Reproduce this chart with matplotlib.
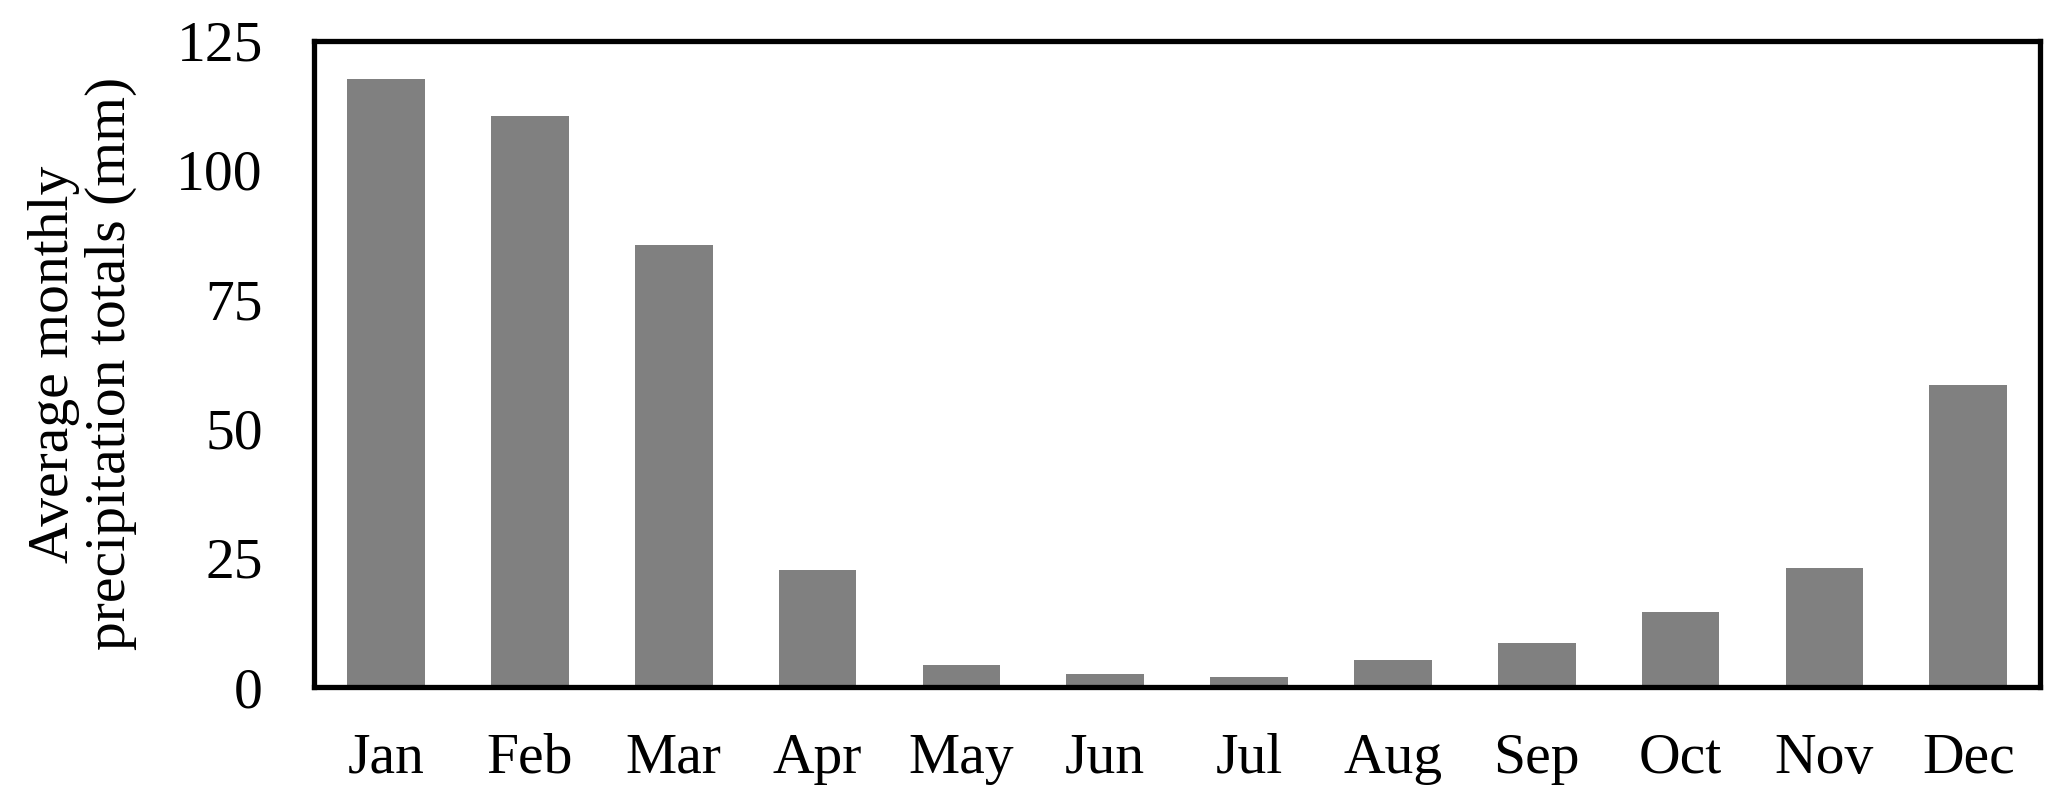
import matplotlib
matplotlib.use("Agg")
import matplotlib.pyplot as plt

months = ["Jan", "Feb", "Mar", "Apr", "May", "Jun", "Jul", "Aug", "Sep", "Oct", "Nov", "Dec"]
precip = [117.6, 110.5, 85.5, 22.7, 4.3, 2.5, 1.9, 5.3, 8.5, 14.5, 23.0, 58.4]
yticks = [0, 25, 50, 75, 100, 125]

plt.rcParams['font.family'] = ['Liberation Serif', 'DejaVu Serif']

fig = plt.figure(figsize=(20.67, 7.97), dpi=100)
ax = fig.add_axes([0.152, 0.138, 0.835, 0.811])

x = list(range(len(months)))
ax.bar(x, precip, width=0.54, color='#808080', zorder=2)

ax.set_xlim(-0.5, len(months) - 0.5)
ax.set_ylim(0, 125)
ax.set_yticks(yticks)
ax.set_yticklabels([str(v) for v in yticks])
ax.set_xticks(x)
ax.set_xticklabels(months)

ax.tick_params(axis='both', length=0, labelsize=41.5)
ax.tick_params(axis='y', pad=37)
ax.tick_params(axis='x', pad=33)

for s in ax.spines.values():
    s.set_linewidth(3.8)
    s.set_color('black')

ax.set_ylabel("Average monthly\nprecipitation totals (mm)", fontsize=41.5, labelpad=28,
              linespacing=1.12)

fig.savefig("out.png", dpi=100)
